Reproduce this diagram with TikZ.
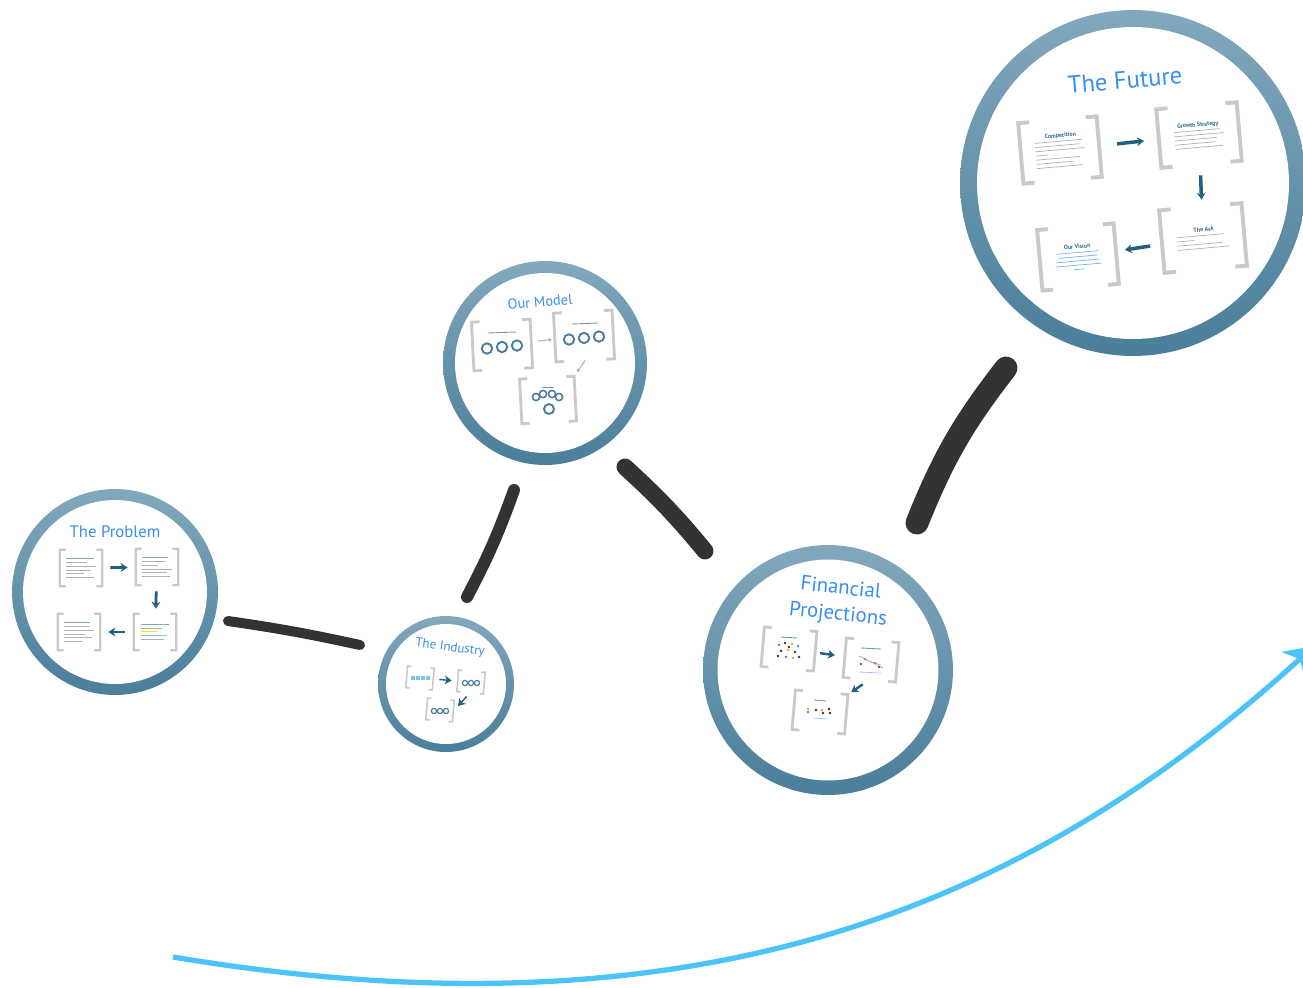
\documentclass[tikz,border=0pt]{standalone}
\usepackage{fontspec}
\setmainfont{PT Sans}
\usepackage{tikz}
\usetikzlibrary{calc,arrows.meta}
\definecolor{ringtop}{HTML}{82A8BC}
\definecolor{ringbot}{HTML}{4A7E9B}
\definecolor{titleblue}{HTML}{3A8EF0}
\definecolor{linkgray}{HTML}{333333}
\definecolor{curveblue}{HTML}{4DC4F8}
\definecolor{flowteal}{HTML}{23607F}
\definecolor{brkgray}{HTML}{C9C9C9}
\definecolor{hdblue}{HTML}{2F6F92}
\definecolor{txtgray}{HTML}{B0B0B0}
\definecolor{lightflow}{HTML}{9DB7C7}
\definecolor{knobblue}{HTML}{4D7F9C}
\definecolor{boxblue}{HTML}{7CC6EA}
\definecolor{dotorange}{HTML}{F0A040}
\tikzset{
	stop/.style={circle,draw=none,inner sep=0pt,minimum size=#1,top color=ringtop,bottom color=ringbot},
	hole/.style={circle,draw=none,fill=white,inner sep=0pt,minimum size=#1},
	title/.style={text=titleblue,inner sep=0pt,align=center},
	slide/.style 2 args={minimum width=#1,minimum height=#2,inner sep=0pt,align=left,font=\fontsize{3}{2.4}\selectfont,text=txtgray},
	brk/.style={draw=brkgray,line width=#1},
	flow/.style={draw=flowteal,line width=#1,arrows={-Stealth[length=4pt,width=5pt]}},
	thinflow/.style={draw=lightflow,line width=0.6pt,arrows={-Stealth[length=2pt,width=2.5pt]}},
	link/.style={draw=linkgray,line width=#1,line cap=round},
	knob/.style={draw=knobblue,line width=1.1pt,fill=white},
	hdline/.style={draw=hdblue!70,line width=0.5pt},
	trend/.style={draw=curveblue,line width=3pt,arrows={-Stealth[length=16pt,width=20pt,inset=5pt]}}
}
% gray frame round a slide
\newcommand{\brackets}[2]{%
	\draw[brk=#2] ($(#1.north west)!.14!(#1.north east)$) -- (#1.north west) -- (#1.south west) -- ($(#1.south west)!.14!(#1.south east)$);
	\draw[brk=#2] ($(#1.north east)!.14!(#1.north west)$) -- (#1.north east) -- (#1.south east) -- ($(#1.south east)!.14!(#1.south west)$);
}
\newcommand{\hd}[1]{{\color{hdblue}\bfseries\fontsize{3.4}{3.4}\selectfont #1}}
\newcommand{\tl}[1]{\\\rule{#1}{0.4pt}}

\begin{document}
\begin{tikzpicture}[x=0.02cm,y=-0.02cm]
\useasboundingbox (0,0) rectangle (1303,988);

% rings
\node[stop=4.12cm] (problem) at (115,592) {};
\node[hole=3.68cm] (problemin) at (problem) {};
\node[stop=2.72cm] (industry) at (446,684) {};
\node[hole=2.4cm] (industryin) at (industry) {};
\node[stop=4.08cm] (model) at (545,363) {};
\node[hole=3.6cm] (modelin) at (model) {};
\node[stop=5cm] (finance) at (828,670) {};
\node[hole=4.42cm] (financein) at (finance) {};
\node[stop=6.92cm] (future) at (1133,183) {};
\node[hole=6.24cm] (futurein) at (future) {};

% links between the rings
\coordinate (l1a) at ($(problem)+(113,29)$);
\coordinate (l1b) at ($(industry)+(-86,-39)$);
\coordinate (l2a) at ($(industry)+(21,-87)$);
\coordinate (l2b) at ($(model)+(-31,127)$);
\coordinate (l3a) at ($(model)+(80,104)$);
\coordinate (l3b) at ($(finance)+(-123,-119)$);
\coordinate (l4a) at ($(finance)+(89,-147)$);
\coordinate (l4b) at ($(future)+(-127,185)$);
\draw[link=0.2cm] (l1a) to[bend left=2] (l1b);
\draw[link=0.24cm] (l2a) to[bend right=4] (l2b);
\draw[link=0.34cm] (l3a) to[bend left=4] (l3b);
\draw[link=0.46cm] (l4a) to[bend left=8] (l4b);

% trend line
\coordinate (t0) at (173,957);
\coordinate (t1) at (1314,646);
\draw[trend] (t0) .. controls (700,1045) and (1030,905) .. (t1);

% titles
\node[title,font=\fontsize{14}{14}\selectfont,rotate=5] (futuret) at (1125,80) {The Future};
\node[title,font=\fontsize{8.2}{8.2}\selectfont,rotate=5] (modelt) at (540,302) {Our Model};
\node[title,font=\fontsize{9.5}{9.5}\selectfont] (problemt) at (115,532) {The Problem};
\node[title,font=\fontsize{7.4}{7.4}\selectfont,rotate=-7] (industryt) at (450,648) {The Industry};
\node[title,font=\fontsize{11.8}{11.8}\selectfont,rotate=-6] (financet) at (841,587) {Financial};
\node[title,font=\fontsize{11.8}{11.8}\selectfont,rotate=-6] (projt) at (838,615) {Projections};

% the future
\node[slide={1.56cm}{1.2cm},rotate=5] (fcomp) at (1060,150) {\hspace*{6pt}\hd{Competition}\tl{27pt}\tl{25pt}\tl{28pt}\tl{7pt}\tl{25pt}\tl{21pt}\tl{26pt}};
\node[slide={1.6cm}{1.16cm},rotate=5] (fgrow) at (1199,135) {\hspace*{2pt}\hd{Growth Strategy}\tl{26pt}\tl{28pt}\tl{24pt}\tl{23pt}\tl{27pt}};
\node[slide={1.64cm}{1.24cm},rotate=5] (fask) at (1203,238) {\hspace*{10pt}\hd{The Ask}\tl{27pt}\tl{10pt}\tl{26pt}\tl{30pt}};
\node[slide={1.52cm}{1.2cm},rotate=5,align=center,text=titleblue!70] (fvis) at (1078,257) {\hd{Our Vision}\tl{24pt}\tl{22pt}\tl{25pt}\tl{26pt}\tl{6pt}};
\draw[flow=2pt,shorten <=0.36cm,shorten >=0.3cm] (fcomp) -- (fgrow);
\draw[flow=2pt,shorten <=0.22cm,shorten >=0.14cm] (fgrow) -- (fask);
\draw[flow=2pt,shorten <=0.24cm,shorten >=0.18cm] (fask) -- (fvis);

% our model
\node[slide={1.16cm}{0.96cm},rotate=3] (ml) at (502,345) {};
\node[slide={1.16cm}{0.96cm},rotate=3] (mr) at (584,336) {};
\node[slide={1.08cm}{0.88cm},rotate=3] (mb) at (548,400) {};
\draw[hdline] ([shift={(-14,-12)}]ml.center) -- ++(28,-1);
\draw[hdline] ([shift={(-12,-12)}]mr.center) -- ++(26,-1);
\draw[hdline] ([shift={(-6,-13)}]mb.center) -- ++(12,0);
\foreach \i in {-15,0,15} {
	\draw[knob] ([shift={(\i,2-\i/10)}]ml.center) circle (5.2);
	\draw[knob] ([shift={(\i,2-\i/10)}]mr.center) circle (5.2);
}
\foreach \dx/\dy in {-12/-3,-5/-6,4/-6,11/-3}
	\draw[knob,line width=0.9pt] ([shift={(\dx,\dy)}]mb.center) circle (3.6);
\draw[knob] ([shift={(1,9)}]mb.center) circle (5);
\draw[thinflow,shorten <=0.14cm,shorten >=0.06cm] (ml) -- (mr);
\draw[thinflow,shorten >=0.1cm] (mr.south) -- (mb.north east);

% the problem
\node[slide={0.84cm}{0.72cm},font=\fontsize{2}{2.2}\selectfont] (pa) at (81,568) {\color{hdblue!60}\rule{16pt}{0.4pt}\tl{12pt}\tl{17pt}\tl{14pt}\tl{10pt}\tl{16pt}};
\node[slide={0.84cm}{0.72cm},font=\fontsize{2}{2.2}\selectfont] (pb) at (157,567) {\color{hdblue!60}\rule{15pt}{0.4pt}\tl{13pt}\tl{9pt}\tl{17pt}\tl{14pt}\tl{16pt}};
\node[slide={0.84cm}{0.72cm},font=\fontsize{2}{2.2}\selectfont] (pc) at (155,632) {\color{hdblue!60}\rule{16pt}{0.4pt}\tl{12pt}\\\color{yellow!80!orange}\rule{9pt}{0.6pt}\\\color{boxblue}\rule{15pt}{0.6pt}\\\color{txtgray}\rule{13pt}{0.4pt}};
\node[slide={0.84cm}{0.72cm},font=\fontsize{2}{2.2}\selectfont] (pd) at (79,632) {\color{hdblue!60}\rule{15pt}{0.4pt}\tl{14pt}\tl{17pt}\tl{12pt}\tl{16pt}\tl{10pt}};
\draw[flow=1.6pt,shorten <=0.16cm,shorten >=0.16cm] (pa) -- (pb);
\draw[flow=1.6pt,shorten <=0.12cm,shorten >=0.1cm] (pb) -- (pc);
\draw[flow=1.6pt,shorten <=0.18cm,shorten >=0.16cm] (pc) -- (pd);

% the industry
\node[slide={0.52cm}{0.42cm},rotate=-5] (ia) at (420,678) {};
\node[slide={0.52cm}{0.42cm},rotate=-5] (ib) at (471,682) {};
\node[slide={0.52cm}{0.42cm},rotate=-5] (ic) at (440,710) {};
\foreach \i in {-9,-4,1,6}
	\fill[boxblue] ([shift={(\i,-2)}]ia.center) rectangle ++(4,4);
\foreach \i in {-6,0,6} {
	\draw[knob,line width=0.7pt] ([shift={(\i,1)}]ib.center) circle (2.6);
	\draw[knob,line width=0.7pt] ([shift={(\i,1)}]ic.center) circle (2.6);
}
\draw[flow=0.8pt,shorten <=0.12cm,shorten >=0.12cm] (ia) -- (ib);
\draw[flow=0.8pt,shorten <=0.1cm,shorten >=0.14cm] (ib.south) -- (ic.east);

% financial projections
\node[slide={1.04cm}{0.78cm},rotate=-5] (fa) at (789,649) {};
\node[slide={1.04cm}{0.78cm},rotate=-5] (fb) at (871,660) {};
\node[slide={1.04cm}{0.78cm},rotate=-5] (fc) at (820,712) {};
\draw[hdline] ([shift={(-8,-12)}]fa.center) -- ++(16,1);
\draw[hdline] ([shift={(-10,-12)}]fb.center) -- ++(20,1);
\draw[hdline] ([shift={(-6,-12)}]fc.center) -- ++(12,1);
\foreach \dx/\dy/\c in {-10/-4/titleblue,-4/-6/linkgray,3/-5/dotorange,9/-3/titleblue,-8/2/linkgray,-1/1/dotorange,6/3/linkgray,-11/7/linkgray,-3/8/titleblue,4/9/dotorange,10/8/linkgray,0/-2/linkgray}
	\fill[\c] ([shift={(\dx,\dy)}]fa.center) circle (1.4);
\draw[txtgray,line width=0.4pt] ([shift={(-12,-4)}]fb.center) -- ++(24,12);
\draw[txtgray,line width=0.4pt] ([shift={(-8,-1)}]fb.center) -- ++(18,6);
\foreach \dx/\dy/\c in {-6/-1/red!70,4/3/red!70,8/7/linkgray,-10/4/linkgray}
	\fill[\c] ([shift={(\dx,\dy)}]fb.center) circle (1.2);
\draw[titleblue!50,line width=0.4pt] ([shift={(-12,12)}]fb.center) -- ++(22,1);
\foreach \dx/\dy/\c in {-12/-3/dotorange,-12/0/titleblue,-4/-2/linkgray,2/-2/dotorange,3/1/linkgray,9/-3/linkgray,10/1/linkgray}
	\fill[\c] ([shift={(\dx,\dy)}]fc.center) circle (1.3);
\draw[titleblue!50,line width=0.4pt] ([shift={(-6,6)}]fc.center) -- ++(14,1);
\draw[flow=1.4pt,shorten <=0.1cm,shorten >=0.2cm] (fa) -- (fb);
\draw[flow=1.4pt,shorten <=0.16cm,shorten >=0.08cm] (fb.south) -- (fc.north east);

% frames
\foreach \f/\w in {fcomp/2.2pt,fgrow/2.2pt,fask/2.2pt,fvis/2.2pt,ml/1.6pt,mr/1.6pt,mb/1.6pt,pa/1.3pt,pb/1.3pt,pc/1.3pt,pd/1.3pt,ia/0.9pt,ib/0.9pt,ic/0.9pt,fa/1.6pt,fb/1.6pt,fc/1.6pt}
	{\brackets{\f}{\w}}
\end{tikzpicture}
\end{document}
